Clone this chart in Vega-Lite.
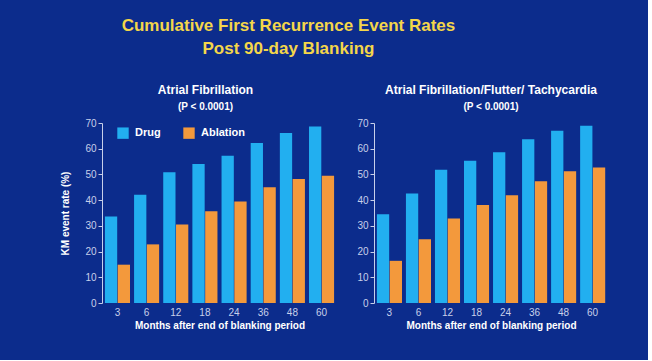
{
  "$schema": "https://vega.github.io/schema/vega-lite/v6.json",
  "background": "#0c2c8c",
  "padding": {"left": 60, "top": 17, "right": 40, "bottom": 30},
  "title": {
    "text": ["Cumulative First Recurrence Event Rates", "Post 90-day Blanking"],
    "color": "#f4d64a",
    "fontSize": 17,
    "fontWeight": "bold",
    "font": "Liberation Sans",
    "lineHeight": 23,
    "anchor": "middle",
    "dx": -46,
    "offset": 26
  },
  "datasets": {
    "af": [
      {"month": 3, "group": "Drug", "rate": 33.6},
      {"month": 6, "group": "Drug", "rate": 42.1},
      {"month": 12, "group": "Drug", "rate": 50.8},
      {"month": 18, "group": "Drug", "rate": 54.1},
      {"month": 24, "group": "Drug", "rate": 57.3},
      {"month": 36, "group": "Drug", "rate": 62.2},
      {"month": 48, "group": "Drug", "rate": 66.1},
      {"month": 60, "group": "Drug", "rate": 68.6},
      {"month": 3, "group": "Ablation", "rate": 14.9},
      {"month": 6, "group": "Ablation", "rate": 22.8},
      {"month": 12, "group": "Ablation", "rate": 30.5},
      {"month": 18, "group": "Ablation", "rate": 35.7},
      {"month": 24, "group": "Ablation", "rate": 39.5},
      {"month": 36, "group": "Ablation", "rate": 45.0},
      {"month": 48, "group": "Ablation", "rate": 48.2},
      {"month": 60, "group": "Ablation", "rate": 49.5}
    ],
    "aft": [
      {"month": 3, "group": "Drug", "rate": 34.5},
      {"month": 6, "group": "Drug", "rate": 42.6},
      {"month": 12, "group": "Drug", "rate": 51.8},
      {"month": 18, "group": "Drug", "rate": 55.3},
      {"month": 24, "group": "Drug", "rate": 58.6},
      {"month": 36, "group": "Drug", "rate": 63.7},
      {"month": 48, "group": "Drug", "rate": 67.0},
      {"month": 60, "group": "Drug", "rate": 68.9},
      {"month": 3, "group": "Ablation", "rate": 16.4},
      {"month": 6, "group": "Ablation", "rate": 24.8},
      {"month": 12, "group": "Ablation", "rate": 32.9},
      {"month": 18, "group": "Ablation", "rate": 38.1},
      {"month": 24, "group": "Ablation", "rate": 41.9},
      {"month": 36, "group": "Ablation", "rate": 47.3},
      {"month": 48, "group": "Ablation", "rate": 51.2},
      {"month": 60, "group": "Ablation", "rate": 52.7}
    ]
  },
  "spacing": 19,
  "resolve": {"scale": {"color": "independent", "y": "independent"}, "legend": {"color": "independent"}},
  "hconcat": [
    {
      "width": 235,
      "height": 180,
      "title": {"text": "Atrial Fibrillation", "subtitle": "(P < 0.0001)", "dx": -14},
      "data": {"name": "af"},
      "mark": {"type": "bar"},
      "encoding": {
        "x": {
          "field": "month",
          "type": "ordinal",
          "scale": {"paddingInner": 0.14, "paddingOuter": 0.1},
          "axis": {"title": "Months after end of blanking period"}
        },
        "xOffset": {"field": "group", "sort": ["Drug", "Ablation"], "scale": {"paddingInner": 0.04}},
        "y": {
          "field": "rate",
          "type": "quantitative",
          "scale": {"domain": [0, 70]},
          "axis": {"title": "KM event rate (%)", "values": [0, 10, 20, 30, 40, 50, 60, 70]}
        },
        "color": {
          "field": "group",
          "type": "nominal",
          "scale": {"domain": ["Drug", "Ablation"], "range": ["#22aff0", "#f3993c"]},
          "legend": {
            "title": null,
            "orient": "none",
            "legendX": 15,
            "legendY": 4,
            "direction": "horizontal",
            "symbolType": "square",
            "symbolSize": 130,
            "symbolStrokeWidth": 0,
            "labelColor": "#ffffff",
            "labelFont": "Liberation Sans",
            "labelFontWeight": "bold",
            "labelFontSize": 11,
            "labelOffset": 6,
            "columnPadding": 22
          }
        }
      }
    },
    {
      "width": 234,
      "height": 180,
      "title": {"text": "Atrial Fibrillation/Flutter/ Tachycardia", "subtitle": "(P < 0.0001)"},
      "data": {"name": "aft"},
      "mark": {"type": "bar"},
      "encoding": {
        "x": {
          "field": "month",
          "type": "ordinal",
          "scale": {"paddingInner": 0.14, "paddingOuter": 0.1},
          "axis": {"title": "Months after end of blanking period"}
        },
        "xOffset": {"field": "group", "sort": ["Drug", "Ablation"], "scale": {"paddingInner": 0.04}},
        "y": {
          "field": "rate",
          "type": "quantitative",
          "scale": {"domain": [0, 70]},
          "axis": {"title": null, "values": [0, 10, 20, 30, 40, 50, 60, 70]}
        },
        "color": {
          "field": "group",
          "type": "nominal",
          "scale": {"domain": ["Drug", "Ablation"], "range": ["#22aff0", "#f3993c"]},
          "legend": null
        }
      }
    }
  ],
  "config": {
    "font": "Liberation Sans",
    "view": {"stroke": null},
    "title": {
      "color": "#ffffff",
      "fontSize": 12,
      "fontWeight": "bold",
      "subtitleColor": "#ffffff",
      "subtitleFontSize": 10,
      "subtitleFontWeight": "bold",
      "subtitlePadding": 5,
      "offset": 5
    },
    "axis": {
      "labelColor": "#c8d0ea",
      "labelFontSize": 10,
      "titleColor": "#ffffff",
      "titleFontSize": 10,
      "titleFontWeight": "bold",
      "grid": false,
      "domainColor": "#c8d0ea",
      "tickColor": "#c8d0ea"
    },
    "axisX": {"domain": false, "ticks": false, "labelAngle": 0, "labelPadding": 4, "titlePadding": 3},
    "axisY": {"tickSize": 4, "labelPadding": 2, "titlePadding": 14}
  }
}
